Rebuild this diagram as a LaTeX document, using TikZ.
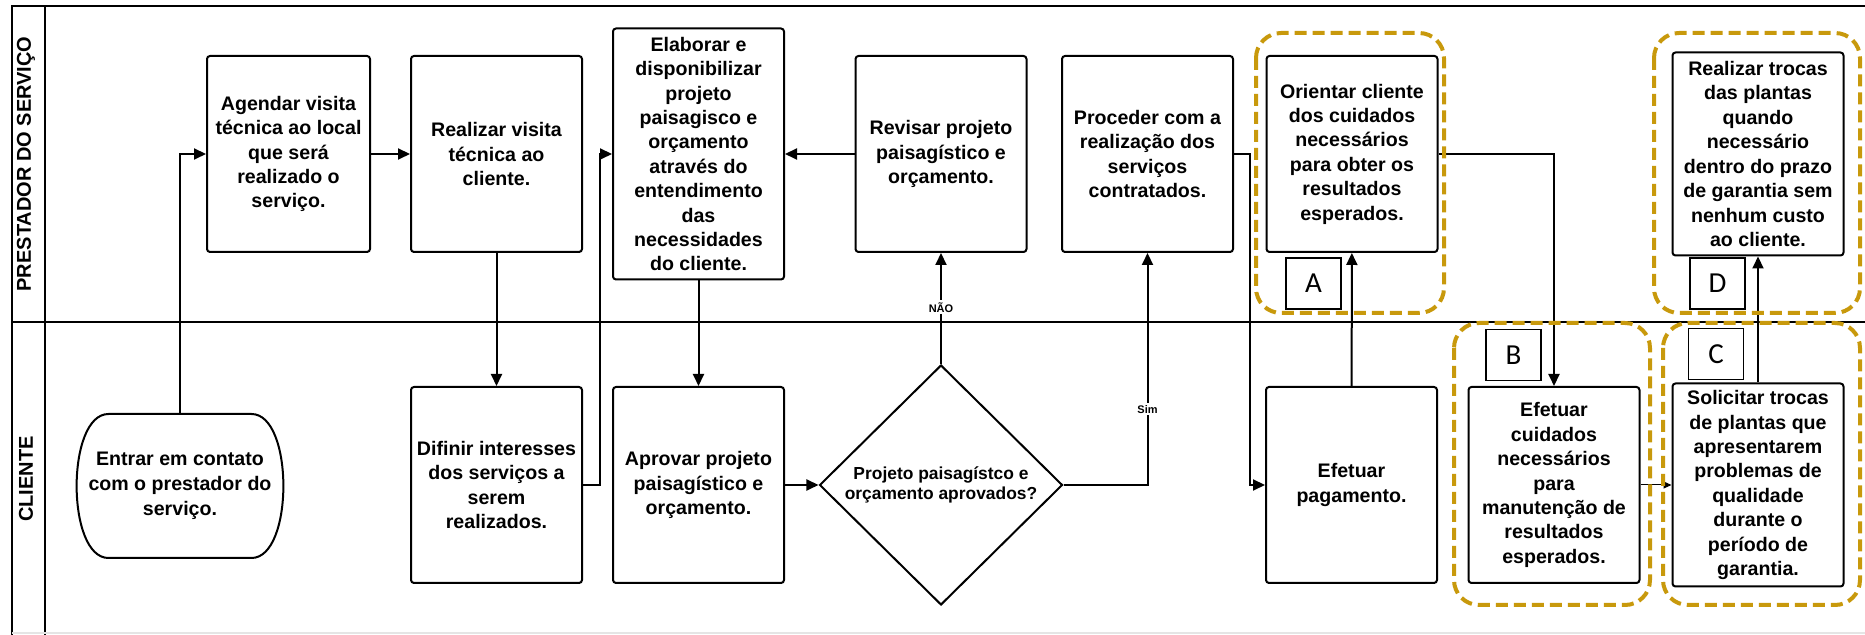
\documentclass[tikz,border=0pt]{standalone}
\usepackage{fontspec}
\setmainfont{Liberation Sans}
\newfontfamily\letrafont{Carlito}
\usepackage{tikz}
\usetikzlibrary{arrows.meta, shapes.geometric, positioning, calc}
\definecolor{ouro}{RGB}{200,153,12}

\begin{document}
\begin{tikzpicture}[
                x=0.5pt, y=-0.5pt,
                ->,
                >={Triangle[length=6pt, width=5.5pt]},
                line width=1pt,
                caixa/.style={rectangle, draw, rounded corners=1.5pt, minimum width=85.5pt, minimum height=98pt, inner sep=0pt, align=center, font=\bfseries\fontsize{9.8pt}{12.2pt}\selectfont},
                decisao/.style={diamond, draw, minimum width=121.5pt, minimum height=120pt, inner sep=0pt, align=center, font=\bfseries\fontsize{8.7pt}{10pt}\selectfont},
                terminal/.style={rectangle, minimum width=102pt, minimum height=71pt, inner sep=0pt, align=center, font=\bfseries\fontsize{9.8pt}{12.5pt}\selectfont},
                raia/.style={rotate=90, font=\bfseries\fontsize{10pt}{12pt}\selectfont},
                rotulo/.style={fill=white, inner sep=1pt, font=\bfseries\fontsize{5.5pt}{6.5pt}\selectfont},
                letra/.style={rectangle, draw, line width=0.8pt, minimum width=27.5pt, minimum height=25.5pt, inner sep=0pt, font=\letrafont\fontsize{14.5pt}{16pt}\selectfont},
                grupo/.style={-, draw=ouro, line width=2pt, dash pattern=on 6pt off 3pt, rounded corners=12.5pt},
        ]
        \useasboundingbox (0,0) rectangle (1865,635);

        % lanes
        \draw[-, line width=1.4pt] (12,635) -- (12,6) -- (1865,6);
        \draw[-, line width=1.4pt] (45,6) -- (45,635);
        \draw[-, line width=1.4pt] (12,322) -- (1865,322);
        \draw[-, gray!20] (12,633) -- (1865,633);
        \node[raia] (prestador) at (26,164) {PRESTADOR DO SERVIÇO};
        \node[raia] (cliente) at (26,479) {CLIENTE};

        % prestador do servico
        \node[caixa, minimum width=81.5pt] (agendar) at (288.5,154) {Agendar visita\\técnica ao local\\que será\\realizado o\\serviço.};
        \node[caixa] (visita) at (496.5,154) {Realizar visita\\técnica ao\\cliente.};
        \node[caixa, minimum height=125.5pt] (elaborar) at (698.5,154) {Elaborar e\\disponibilizar\\projeto\\paisagisco e\\orçamento\\através do\\entendimento\\das\\necessidades\\do cliente.};
        \node[caixa] (revisar) at (941,154) {Revisar projeto\\paisagístico e\\orçamento.};
        \node[caixa] (proceder) at (1147.5,154) {Proceder com a\\realização dos\\serviços\\contratados.};
        \node[caixa] (orientar) at (1352,154) {Orientar cliente\\dos cuidados\\necessários\\para obter os\\resultados\\esperados.};
        \node[caixa, minimum height=101.5pt] (trocas) at (1758,154) {Realizar trocas\\das plantas\\quando\\necessário\\dentro do prazo\\de garantia sem\\nenhum custo\\ao cliente.};

        % cliente
        \node[terminal] (entrar) at (180,486) {Entrar em contato\\com o prestador do\\serviço.};
        \draw[-] ([xshift=15.75pt]entrar.north west) -- ([xshift=-15.75pt]entrar.north east)
                .. controls ([xshift=5.5pt]entrar.north east) and ([xshift=5.5pt]entrar.south east) .. ([xshift=-15.75pt]entrar.south east)
                -- ([xshift=15.75pt]entrar.south west)
                .. controls ([xshift=-5.5pt]entrar.south west) and ([xshift=-5.5pt]entrar.north west) .. cycle;
        \node[caixa] (difinir) at (496.5,485) {Difinir interesses\\dos serviços a\\serem\\realizados.};
        \node[caixa] (aprovar) at (698.5,485) {Aprovar projeto\\paisagístico e\\orçamento.};
        \node[decisao] (aprovado) at (941,485) {Projeto paisagístco e\\orçamento aprovados?};
        \node[caixa] (pagamento) at (1351.5,485) {Efetuar\\pagamento.};
        \node[caixa] (cuidados) at (1554,485) {Efetuar\\cuidados\\necessários\\para\\manutenção de\\resultados\\esperados.};
        \node[caixa, minimum height=101.5pt] (solicitar) at (1758,485) {Solicitar trocas\\de plantas que\\apresentarem\\problemas de\\qualidade\\durante o\\período de\\garantia.};

        \node[letra] (a) at (1313.5,283.5) {A};
        \node[letra] (b) at (1513.5,355) {B};
        \node[letra] (c) at (1716,354) {C};
        \node[letra] (d) at (1717.5,283.5) {D};

        % fluxo
        \draw (entrar.north) |- (agendar.west);
        \draw (agendar) -- (visita);
        \draw (visita) -- (difinir);
        \draw (difinir.east) -- ++(17,0) |- (elaborar.west);
        \draw (revisar) -- (elaborar);
        \draw (elaborar) -- (aprovar);
        \draw (aprovar) -- (aprovado);
        \draw (aprovado) -- node[rotulo, pos=0.51] {NÃO} (revisar);
        \draw (aprovado.east) -| node[rotulo, pos=0.663] {Sim} (proceder.south);
        \draw (proceder.east) -- ++(16,0) |- (pagamento.west);
        \draw (pagamento) -- (orientar);
        \draw (orientar.east) -| (cuidados.north);
        \draw[line width=0.5pt, >={Triangle[length=4pt, width=3.5pt]}] (cuidados) -- (solicitar);
        \draw (solicitar) -- (trocas);

        \draw[grupo] (1256,33) rectangle (1444,313);
        \draw[grupo] (1654,33) rectangle (1860,313);
        \draw[grupo] (1454,323) rectangle (1650,605);
        \draw[grupo] (1663,323) rectangle (1860,605);
\end{tikzpicture}
\end{document}
